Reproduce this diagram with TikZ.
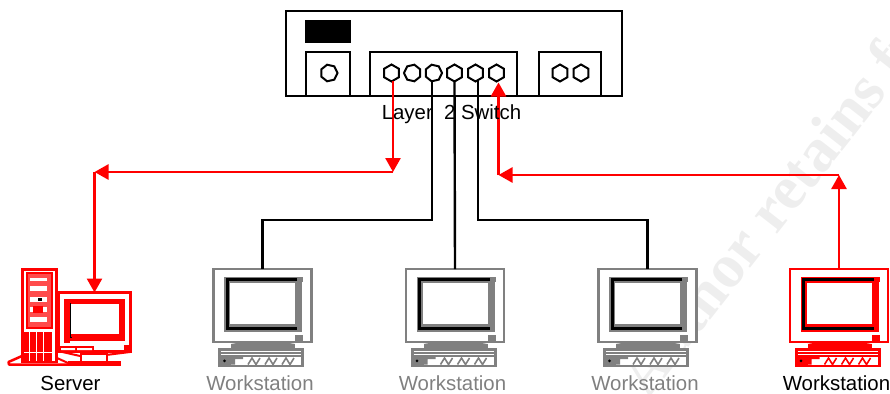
\documentclass[tikz,border=0pt]{standalone}
\usepackage{fontspec}
\setmainfont{Liberation Sans}
\newfontfamily\wmfont{Liberation Serif}
\usetikzlibrary{shapes.geometric,arrows.meta,calc}
\definecolor{wsgrey}{HTML}{808080}
\definecolor{wmgrey}{HTML}{EEEEEE}
\tikzset{
  x=1pt,y=-1pt,
  lbl/.style={font=\fontsize{20.4}{22}\selectfont,inner sep=0pt,anchor=base},
  sw/.style={draw=black,line width=2pt},
  portA/.style={draw=black,line width=2pt,regular polygon,regular polygon sides=6,shape border rotate=30,minimum size=17pt,inner sep=0pt,outer sep=0pt},
  portB/.style={draw=black,line width=2pt,regular polygon,regular polygon sides=7,minimum size=17pt,inner sep=0pt,outer sep=0pt},
  wire/.style={draw=black,line width=2.4pt},
  redwire/.style={draw=red,line width=2.6pt},
  redarrow/.style={redwire,-{Triangle[length=14pt,width=15pt]}},
  frameBox/.style={draw=#1,fill=white,line width=2.2pt,minimum width=98pt,minimum height=73pt,inner sep=0pt,outer sep=0pt},
}
\newcommand{\wkstn}[4]{% name, x, colour, label colour
  \begin{scope}[shift={(#2,269)}]
    \node[frameBox=#3] (#1) at (49.5,36.5) {};
    \fill[#3] (11,8) rectangle (90,13);
    \fill[#3] (11,8) rectangle (89,63);
    \fill[white] (17,14) rectangle (82,55);
    \draw[black,line width=3pt] (84,10) -- (14,10) -- (14,59) -- (84,59);
    \fill[#3] (82,66) rectangle (90,73);
    \fill[#3] (12,73) -- (88,73) -- (70,76) -- (30,76) -- cycle;
    \fill[#3] (18,75) rectangle (82,80);
    \fill[#3] (5,79) rectangle (91,98);
    \draw[white,line width=.5pt] (8,82.5) -- (88,82.5) (8,85) -- (88,85);
    \fill[white] (8,88) rectangle (88,95.5);
    \fill[#3] (8,88) rectangle (18,95.5);
    \fill[black] (11.5,91.8) circle (1.5);
    \fill[#3] (18,88) -- (30,88) -- (30,90) -- (22,90) -- (22,95.5) -- (18,95.5) -- cycle;
    \foreach \k in {35,52,69}{
      \draw[#3,line width=1.6pt] (\k,95.5) -- (\k+4,89) -- (\k+8,95.5) -- (\k+12,89);
    }
    \node[lbl,text=#4] at (47,121) {Workstation};
  \end{scope}
}
\begin{document}
\begin{tikzpicture}
\useasboundingbox (0,0) rectangle (890,393);
% watermark
\begin{scope}
  \clip (0,0) rectangle (890,393);
  \node[rotate=52,text=wmgrey,font=\wmfont\bfseries\fontsize{62}{64}\selectfont,inner sep=0pt,anchor=base west] at (648,400) {Author retains full rights};
\end{scope}
% switch
\node[sw,minimum width=336pt,minimum height=85pt,inner sep=0pt,outer sep=0pt] (switch) at (454,53.5) {};
\node[fill=black,minimum width=46pt,minimum height=23pt,inner sep=0pt] (lamp) at (328,31.5) {};
\node[sw,minimum width=44pt,minimum height=44pt,inner sep=0pt] (boxa) at (328,74) {};
\node[sw,minimum width=147pt,minimum height=44pt,inner sep=0pt] (boxb) at (443.5,74) {};
\node[sw,minimum width=62pt,minimum height=44pt,inner sep=0pt] (boxc) at (570,74) {};
\node[portB,shape border rotate=270] (pa) at (329,73) {};
\node[portA] (p1) at (391.5,73) {};
\node[portB,shape border rotate=90] (p2) at (412.5,73) {};
\node[portB,shape border rotate=270] (p3) at (433.5,73) {};
\node[portA] (p4) at (454.5,73) {};
\node[portA] (p5) at (475.5,73) {};
\node[portA] (p6) at (496.5,73) {};
\node[portA] (pc1) at (560,73) {};
\node[portA] (pc2) at (581,73) {};
% workstations
\wkstn{w1}{213}{wsgrey}{wsgrey}
\wkstn{w2}{405.5}{wsgrey}{wsgrey}
\wkstn{w3}{598}{wsgrey}{wsgrey}
\wkstn{w4}{789.5}{red}{black}
% server: tower
\draw[red,line width=2.5pt] (22.5,269.5) rectangle (56.5,362);
\fill[red!70] (27,273) rectangle (52,328);
\draw[red,line width=2pt] (27,273) rectangle (52,328);
\fill[white] (30,278) rectangle (47,281);
\fill[white] (30,286) rectangle (47,291);
\fill[white] (30,297) rectangle (47,302);
\fill[black] (38,298) rectangle (42,301);
\fill[white] (30,307) rectangle (47,312);
\fill[red] (33,306) rectangle (43,313);
\fill[white] (30,317) rectangle (47,322);
\fill[red] (24,332) rectangle (52,361);
\draw[white,line width=.7pt] (29.5,332) -- (29.5,361) (36,332) -- (36,361) (43,332) -- (43,361) (24,352) -- (52,352);
\draw[red,line width=2.5pt,line join=round] (22,356) -- (8.5,362) -- (9,364.5) -- (68,364.5);
\draw[red,line width=2pt] (57,358) -- (68,363);
% server: monitor
\node[frameBox=red,minimum width=72pt,minimum height=59pt] (srv) at (94.5,322) {};
\fill[red] (64,299) rectangle (125,341);
\fill[red] (64,341) rectangle (70,343);
\fill[white] (71,304) rectangle (119,334);
\draw[black,line width=.9pt] (70,303) -- (70,337) -- (72,337);
\fill[red] (124,345) rectangle (129,350);
\fill[red] (59,346) rectangle (94,352);
\fill[white] (61,348) rectangle (75,350) (77,348) rectangle (92,350);
\draw[red,line width=2pt] (58,351) -- (80,356) (130,352) -- (106,355);
\draw[red,line width=2.4pt,fill=white] (81,354) rectangle (107,362);
\fill[red] (68,361) rectangle (121,366);
% connectors
\coordinate (j1) at ($(p1.south)+(1.5,0)$);
\coordinate (rd1) at (j1 |- 0,172);
\coordinate (rl1) at (94.5,172);
\coordinate (ju3) at ($(p3.south)+(-1.5,0)$);
\coordinate (ju5) at ($(p5.south)+(2.5,0)$);
\draw[redarrow] (j1) -- (rd1);
\draw[redarrow] (rd1) -- (rl1);
\draw[redarrow] (rl1) -- (srv.north);
\draw[wire] (ju3) |- (w1.north |- 0,220) -- (w1.north);
\draw[wire] (p4.south) -- (w2.north);
\draw[wire] (ju5) |- (w3.north |- 0,220) -- (w3.north);
\coordinate (rr4) at (w4.north |- 0,175);
\coordinate (rr6) at ($(p6.south)+(2,1)$);
\coordinate (rr6b) at (rr6 |- 0,175);
\draw[redarrow] (w4.north) -- (rr4);
\draw[redarrow] (rr4) -- (rr6b);
\draw[redarrow] (rr6b) -- (rr6);
% labels
\node[lbl] (swl) at (451.5,119) {Layer\ \ 2 Switch};
\node[lbl] (srvlab) at (70.5,390) {Server};
\end{tikzpicture}
\end{document}
